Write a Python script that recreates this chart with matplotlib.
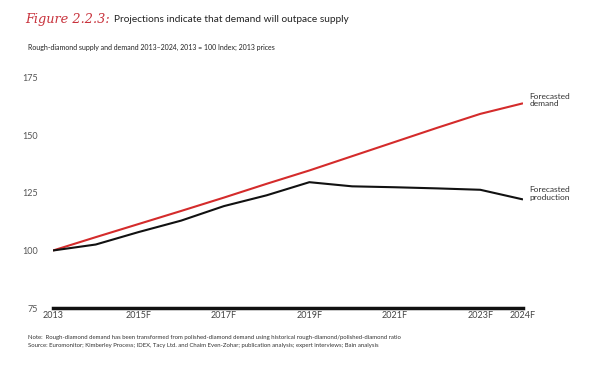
import matplotlib
matplotlib.use("Agg")
import matplotlib.pyplot as plt

years = [2013, 2014, 2015, 2016, 2017, 2018, 2019, 2020, 2021, 2022, 2023, 2024]
demand = [100, 105.8, 111.5, 117.2, 123, 129, 134.8, 141, 147.2, 153.4, 159.4, 164]
production = [100, 102.6, 108, 113, 119.3, 124, 129.7, 127.9, 127.5, 127, 126.4, 122.2]
xtick_years = [2013, 2015, 2017, 2019, 2021, 2023, 2024]
xtick_labels = ["2013", "2015F", "2017F", "2019F", "2021F", "2023F", "2024F"]
yticks = [75, 100, 125, 150, 175]

plt.rcParams['font.family'] = ['Lato', 'DejaVu Sans']

fig = plt.figure(figsize=(6, 3.8), dpi=100)
ax = fig.add_axes([53/600, 72/380, 470/600, 230/380])

ax.plot(years, demand, color="#d42b2b", lw=1.5, solid_capstyle='butt')
ax.plot(years, production, color="#111111", lw=1.5, solid_capstyle='butt')

ax.set_xlim(2013, 2024)
ax.set_ylim(75, 175)
ax.set_xticks(xtick_years)
ax.set_xticklabels(xtick_labels, fontsize=6.5, color="#444444")
ax.set_yticks(yticks)
ax.set_yticklabels([str(v) for v in yticks], fontsize=6.5, color="#555555")
ax.tick_params(axis='both', length=0)
ax.tick_params(axis='x', pad=2.5)
ax.tick_params(axis='y', pad=11)
for s in ["top", "right", "left"]:
    ax.spines[s].set_visible(False)
ax.spines["bottom"].set_linewidth(2.5)
ax.spines["bottom"].set_color("#111111")

ax.text(2024.15, demand[-1] + 1.5, "Forecasted\ndemand", fontsize=6, color="#333333",
        va="center", ha="left", linespacing=1.1)
ax.text(2024.15, production[-1] + 2.5, "Forecasted\nproduction", fontsize=6, color="#333333",
        va="center", ha="left", linespacing=1.1)

fig.text(25/600, 1 - 20/380, "Figure 2.2.3:", fontsize=9.3, color="#c8323c",
         family="DejaVu Serif", style="italic", va="center", ha="left")
fig.text(114/600, 1 - 20/380, "Projections indicate that demand will outpace supply",
         fontsize=7.3, color="#222222", va="center", ha="left")
fig.text(28/600, 1 - 47/380, "Rough-diamond supply and demand 2013\u20132024, 2013 = 100 Index; 2013 prices",
         fontsize=5.0, color="#222222", va="center", ha="left")
fig.text(28/600, 1 - 338/380,
         "Note:  Rough-diamond demand has been transformed from polished-diamond demand using historical rough-diamond/polished-diamond ratio",
         fontsize=4.3, color="#333333", va="center", ha="left")
fig.text(28/600, 1 - 345/380,
         "Source: Euromonitor; Kimberley Process; IDEX, Tacy Ltd. and Chaim Even-Zohar; publication analysis; expert interviews; Bain analysis",
         fontsize=4.3, color="#333333", va="center", ha="left")

fig.savefig("out.png", dpi=100, facecolor="white")
